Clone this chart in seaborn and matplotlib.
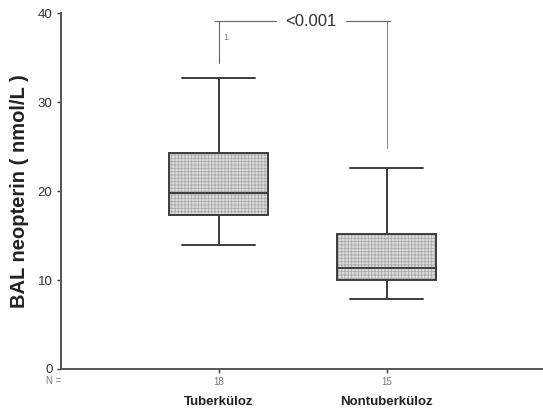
import matplotlib
matplotlib.use("Agg")
import matplotlib.pyplot as plt
from matplotlib.transforms import blended_transform_factory
from matplotlib.patches import PathPatch
import seaborn as sns
import pandas as pd

# ---- data (five-number summaries) ----
categories = ["Tuberküloz", "Nontuberküloz"]
counts = ["18", "15"]
tb_summary = [13.9, 17.3, 19.8, 24.3, 32.7]       # min, Q1, median, Q3, max
nontb_summary = [7.9, 10.0, 11.3, 15.2, 22.6]
yticks = [0, 10, 20, 30, 40]
p_text = "<0.001"
bracket_y = 39.1
bracket_left_bottom = 34.4
bracket_right_bottom = 24.9
ylabel = "BAL neopterin ( nmol/L )"

df = pd.DataFrame({
    "group": [categories[0]] * len(tb_summary) + [categories[1]] * len(nontb_summary),
    "value": tb_summary + nontb_summary,
})

sns.set_style("ticks")
plt.rcParams["font.family"] = ["Liberation Sans", "DejaVu Sans"]
plt.rcParams["hatch.linewidth"] = 0.6

dark = "#3c3c3c"
fig = plt.figure(figsize=(5.43, 4.15), dpi=100)
ax = fig.add_axes([0.112, 0.111, 0.888, 0.857])

sns.boxplot(data=df, x="group", y="value", order=categories, ax=ax,
            whis=(0, 100), width=0.59, color="#dcdcdc", linecolor=dark,
            linewidth=1.4, capwidths=0.435, saturation=1, showfliers=False)

for p in list(ax.patches):
    z = p.get_zorder()
    fill = PathPatch(p.get_path(), transform=p.get_transform(),
                     facecolor="#dedede", edgecolor="#a9a9a9", lw=0,
                     hatch="+++++", zorder=z - 0.05)
    ax.add_patch(fill)
    p.set_facecolor("none")
    p.set_edgecolor(dark)

ax.set_xlim(-0.94, 1.93)
ax.set_ylim(0, 40)
ax.set_yticks(yticks)
ax.set_yticklabels([str(t) for t in yticks], fontsize=9.5, color="#333333")
ax.set_xticks(range(len(categories)))
ax.set_xticklabels(counts, fontsize=7, color="#777777")
ax.tick_params(axis="y", length=3, width=1, color=dark, pad=3)
ax.tick_params(axis="x", length=3, width=1, color=dark, pad=3)
for s in ["top", "right"]:
    ax.spines[s].set_visible(False)
for s in ["left", "bottom"]:
    ax.spines[s].set_color("#555555")
    ax.spines[s].set_linewidth(1.4)

ax.set_xlabel("")
ax.set_ylabel(ylabel, fontsize=14.5, fontweight="bold", color="#222222", labelpad=6)

trans = blended_transform_factory(ax.transData, ax.transAxes)
for i, c in enumerate(categories):
    ax.text(i, -0.094, c, transform=trans, ha="center", va="center",
            fontsize=9.5, fontweight="bold", color="#222222")
ax.text(-0.98, -0.035, "N =", transform=trans, ha="center", va="center",
        fontsize=7, color="#777777")

# significance bracket
gray = "#666666"
ax.plot([0, 0], [bracket_left_bottom, bracket_y], color=gray, lw=0.8)
ax.plot([1, 1], [bracket_right_bottom, bracket_y], color="#888888", lw=0.8)
ax.plot([-0.025, 0.339], [bracket_y, bracket_y], color=gray, lw=0.8)
ax.plot([0.756, 1.02], [bracket_y, bracket_y], color=gray, lw=0.8)
ax.text(0.548, bracket_y, p_text, ha="center", va="center", fontsize=12, color="#333333")
ax.text(0.04, 37.3, "1", ha="center", va="center", fontsize=6.5, color="#777777")

fig.savefig("out.png", dpi=100)
